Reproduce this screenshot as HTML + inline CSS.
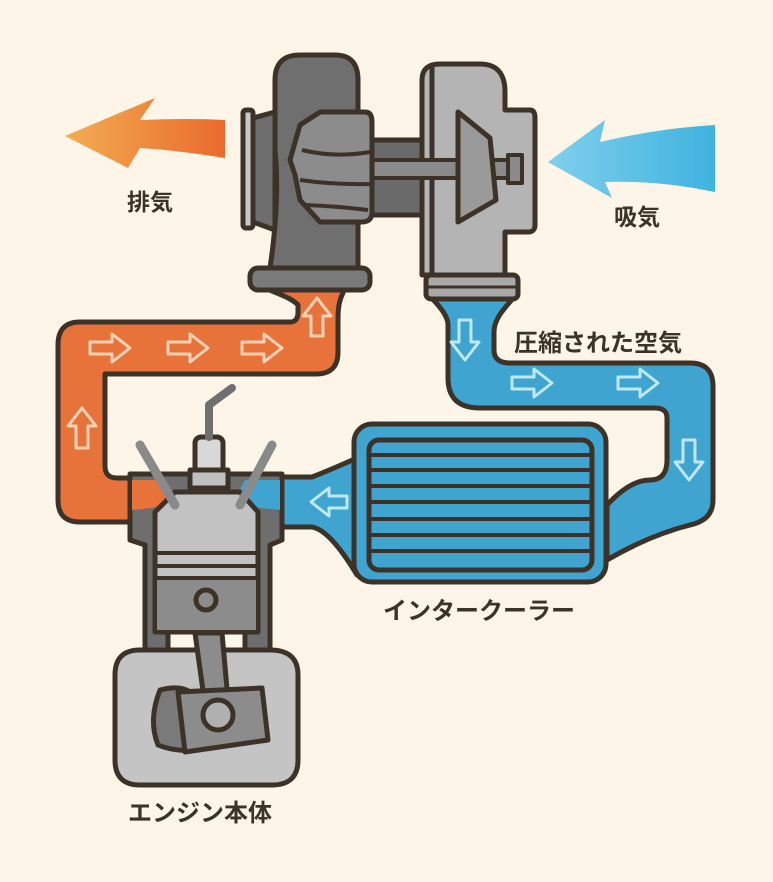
<!DOCTYPE html>
<html><head><meta charset="utf-8"><style>
html,body{margin:0;padding:0;background:#fdf6e8;}
svg{display:block}
text{font-family:"Liberation Sans","Noto Sans CJK JP",sans-serif;font-weight:bold;fill:#3d3228}
</style></head><body>
<svg width="773" height="882" viewBox="0 0 773 882" xmlns="http://www.w3.org/2000/svg">
<defs>
<linearGradient id="og" x1="0" x2="1" y1="0" y2="0"><stop offset="0" stop-color="#f3ad52"/><stop offset="1" stop-color="#e96a2c"/></linearGradient>
<linearGradient id="bg" x1="0" x2="1" y1="0" y2="0"><stop offset="0" stop-color="#7fcfec"/><stop offset="1" stop-color="#3fb3df"/></linearGradient>
</defs>
<rect width="773" height="882" fill="#fdf6e8"/>

<path d="M65,136 L155,98 L140,120 Q190,118 225,120 L225,158 Q175,150 140,148 L128,168 Z" fill="url(#og)"/>
<path d="M548,162 L605,120 L600,142 Q660,128 715,125 L715,192 Q660,180 605,182 L612,198 Z" fill="url(#bg)"/>
<text x="127" y="210" font-size="23">排気</text>
<text x="614" y="225" font-size="23">吸気</text>

<path d="M258,284 L348,284 C340,296 338,305 338,318 L338,352 Q338,374 316,374 L105,374 L105,466 Q105,478 117,478 L132,478 L132,522 L80,522 Q58,522 58,500 L58,345 Q58,322 80,322 L290,322 Q298,322 298,312 L298,305 C290,296 270,292 258,284 Z" fill="#e8733a" stroke="#3d3228" stroke-width="5" stroke-linejoin="round"/>
<g fill="none" stroke="#fbd2b5" stroke-width="3" stroke-linejoin="round">
<path d="M90,342 h22 v-8 l18,14 l-18,14 v-8 h-22 z"/>
<path d="M168,342 h22 v-8 l18,14 l-18,14 v-8 h-22 z"/>
<path d="M242,342 h22 v-8 l18,14 l-18,14 v-8 h-22 z"/>
<path d="M76,448 v-22 h-8 l14,-18 l14,18 h-8 v22 z"/>
<path d="M311,336 v-20 h-8 l14,-18 l14,18 h-8 v20 z"/>
</g>

<path d="M430,296 L515,296 C505,308 494,318 494,332 L494,350 Q494,363 510,363 L690,363 Q713,363 713,386 L713,500 Q713,520 690,525 Q650,535 607,560 L607,505 Q630,480 650,480 Q667,480 667,460 L667,418 Q667,408 655,408 L480,408 Q448,408 448,378 L448,325 C448,315 438,305 430,296 Z" fill="#3fa4cf" stroke="#3d3228" stroke-width="5" stroke-linejoin="round"/>
<path d="M357,458 Q330,470 312,477 L282,477 L282,527 L312,527 Q330,530 357,575 Z" fill="#3fa4cf" stroke="#3d3228" stroke-width="5" stroke-linejoin="round"/>
<rect x="354" y="424" width="252" height="158" rx="18" fill="#3fa4cf" stroke="#3d3228" stroke-width="5"/>
<rect x="369" y="440" width="223" height="130" rx="10" fill="#3fa4cf" stroke="#3d3228" stroke-width="5"/>
<g stroke="#3d3228" stroke-width="4">
<line x1="369" y1="455" x2="592" y2="455"/><line x1="369" y1="470" x2="592" y2="470"/>
<line x1="369" y1="486" x2="592" y2="486"/><line x1="369" y1="502" x2="592" y2="502"/>
<line x1="369" y1="519" x2="592" y2="519"/><line x1="369" y1="535" x2="592" y2="535"/>
<line x1="369" y1="551" x2="592" y2="551"/>
</g>
<g fill="none" stroke="#bfe8f5" stroke-width="3" stroke-linejoin="round">
<path d="M459,320 v22 h-8 l14,18 l14,-18 h-8 v-22 z"/>
<path d="M512,377 h22 v-8 l18,14 l-18,14 v-8 h-22 z"/>
<path d="M618,377 h22 v-8 l18,14 l-18,14 v-8 h-22 z"/>
<path d="M683,440 v22 h-8 l14,18 l14,-18 h-8 v-22 z"/>
<path d="M347,496 h-18 v-8 l-18,14 l18,14 v-8 h18 z"/>
</g>
<text x="514" y="351" font-size="24">圧縮された空気</text>
<text x="383" y="619" font-size="24">インタークーラー</text>

<g stroke="#3d3228" stroke-width="5" stroke-linejoin="round">
<rect x="243" y="110" width="10" height="118" rx="3" fill="#c9c9c9"/>
<path d="M253,118 L275,112 L275,230 L253,222 Z" fill="#6e6e6e"/>
<path d="M275,80 Q275,55 300,55 L335,55 Q358,55 358,80 L358,268 L270,268 Q280,200 275,150 Z" fill="#6f6f6f"/>
<rect x="250" y="268" width="120" height="22" rx="8" fill="#7a7a7a"/>
<path d="M422,80 Q422,64 440,64 L480,64 Q505,64 505,92 L505,110 L530,110 Q535,110 535,118 L535,225 Q535,232 528,232 L505,232 L505,275 L422,275 Z" fill="#b4b4b4"/>
<line x1="432" y1="66" x2="432" y2="275"/>
<rect x="426" y="275" width="92" height="24" rx="5" fill="#a8a8a8"/>
<line x1="428" y1="287" x2="516" y2="287" stroke-width="3"/>
<rect x="370" y="140" width="52" height="75" fill="#6a6a6a"/>
<rect x="370" y="160" width="150" height="18" fill="#8a8a8a" stroke-width="4"/>
<rect x="508" y="155" width="14" height="28" fill="#8a8a8a" stroke-width="4"/>
<path d="M458,112 L490,138 L496,200 L458,222 Z" fill="#9a9a9a"/>
<path d="M300,125 L320,112 L365,112 Q372,112 372,122 L372,212 Q372,222 362,222 L320,222 L300,200 L295,175 L290,160 Z" fill="#8c8c8c"/>
<path d="M302,150 Q335,158 370,152 M300,180 Q335,185 372,184 M305,205 Q335,206 368,210" fill="none" stroke-width="4"/>
</g>

<g stroke="#3d3228" stroke-width="5" stroke-linejoin="round">
<path d="M115,675 Q115,650 140,650 L270,650 Q298,650 298,675 L298,760 Q298,785 272,785 L140,785 Q115,785 115,760 Z" fill="#c4c4c4"/>
<path d="M130,474 L282,474 L282,540 L270,545 L270,650 L245,650 L245,520 L168,520 L168,650 L145,650 L145,545 L130,540 Z" fill="#6e6e6e"/>
<path d="M132,480 L165,480 L180,505 L132,510 Z" fill="#e8733a" stroke="none"/>
<path d="M280,480 L245,480 L232,505 L280,510 Z" fill="#3fa4cf" stroke="none"/>
<path d="M155,512 L175,492 L240,492 L258,512 L258,632 L155,632 Z" fill="#c2c2c2"/>
<line x1="155" y1="553" x2="258" y2="553" stroke-width="4"/>
<line x1="155" y1="566" x2="258" y2="566" stroke-width="4"/>
<line x1="155" y1="578" x2="258" y2="578" stroke-width="4"/>
<rect x="157" y="580" width="99" height="50" fill="#8c8c8c" stroke="none"/>
<circle cx="206" cy="600" r="10" fill="#8c8c8c"/>
<path d="M195,633 L222,633 L228,700 L205,705 Z" fill="#8c8c8c"/>
<path d="M160,690 Q180,685 190,692 L195,750 Q175,752 158,745 Q148,720 160,690 Z" fill="#7a7a7a"/>
<path d="M178,692 L262,688 L268,740 L185,752 Z" fill="#8c8c8c"/>
<circle cx="218" cy="715" r="15" fill="#b0b0b0"/>
<path d="M140,445 L175,505" stroke="#8a8a8a" stroke-width="9" stroke-linecap="round"/>
<path d="M272,445 L240,505" stroke="#8a8a8a" stroke-width="9" stroke-linecap="round"/>
<rect x="195" y="437" width="28" height="42" rx="6" fill="#d8d8d8"/>
<rect x="190" y="470" width="38" height="18" fill="#c0c0c0"/>
<path d="M209,437 L209,405 L232,388" fill="none" stroke="#6f6f6f" stroke-width="8" stroke-linecap="round"/>
</g>
<text x="128" y="821" font-size="24">エンジン本体</text>
</svg>
</body></html>
